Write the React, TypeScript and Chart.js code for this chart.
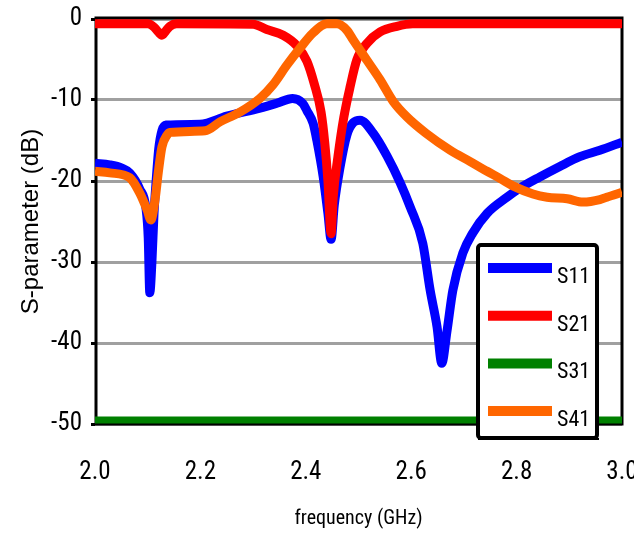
import React, { useEffect, useRef } from "react";
import { Chart, registerables } from "chart.js";

Chart.register(...registerables);

// ---------- data ----------
const s11Freq = [2.0, 2.028, 2.051, 2.066, 2.085, 2.097, 2.101, 2.104, 2.108, 2.112, 2.116, 2.121, 2.127, 2.135, 2.199, 2.25, 2.313, 2.345, 2.375, 2.394, 2.402, 2.414, 2.421, 2.433, 2.442, 2.448, 2.454, 2.465, 2.478, 2.49, 2.503, 2.528, 2.554, 2.579, 2.598, 2.622, 2.636, 2.649, 2.658, 2.668, 2.679, 2.698, 2.717, 2.744, 2.782, 2.806, 2.844, 2.882, 2.92, 2.958, 3.0];
const s11Db = [-17.8, -18.0, -18.4, -19.0, -21.0, -23.5, -27.0, -33.8, -30.0, -24.0, -20.0, -16.0, -13.8, -13.1, -13.0, -12.0, -11.0, -10.4, -9.8, -10.4, -11.3, -12.9, -15.0, -19.5, -24.0, -27.2, -23.0, -18.3, -14.3, -12.8, -12.5, -14.1, -16.9, -20.2, -23.2, -27.7, -33.5, -38.0, -42.5, -38.5, -33.5, -28.9, -26.4, -24.0, -22.0, -20.9, -19.5, -18.2, -17.0, -16.2, -15.2];

const s21Freq = [2.0, 2.1, 2.112, 2.12, 2.127, 2.134, 2.142, 2.155, 2.3, 2.326, 2.357, 2.383, 2.402, 2.416, 2.429, 2.436, 2.442, 2.448, 2.452, 2.461, 2.472, 2.484, 2.497, 2.516, 2.541, 2.573, 2.603, 3.0];
const s21Db = [-0.6, -0.6, -1.0, -1.6, -2.0, -1.5, -0.9, -0.6, -0.65, -1.3, -2.0, -3.3, -5.2, -8.0, -11.5, -15.3, -20.0, -26.5, -22.0, -17.0, -12.2, -8.4, -5.0, -3.0, -1.6, -0.9, -0.6, -0.6];

const s31Freq = [2.0, 3.0];
const s31Db = [-49.5, -49.5];

const s41Freq = [2.0, 2.028, 2.066, 2.085, 2.099, 2.106, 2.114, 2.12, 2.127, 2.137, 2.142, 2.209, 2.237, 2.275, 2.313, 2.338, 2.364, 2.389, 2.414, 2.44, 2.459, 2.478, 2.49, 2.516, 2.541, 2.566, 2.592, 2.628, 2.674, 2.712, 2.744, 2.769, 2.793, 2.831, 2.858, 2.896, 2.926, 2.958, 2.971, 3.0];
const s41Db = [-18.8, -19.0, -19.6, -21.5, -23.6, -24.8, -22.3, -19.0, -15.8, -14.3, -14.0, -13.8, -12.7, -11.5, -9.8, -8.1, -5.7, -3.6, -1.7, -0.6, -0.6, -1.4, -2.6, -5.1, -7.5, -10.2, -12.1, -14.1, -16.2, -17.6, -18.8, -19.7, -20.6, -21.6, -22.0, -22.2, -22.6, -22.3, -22.0, -21.4];

const seriesNames = ["S11", "S21", "S31", "S41"];
const seriesColors = ["#0000ff", "#ff0000", "#008000", "#ff6600"];

const xTickValues = [2.0, 2.2, 2.4, 2.6, 2.8, 3.0];
const xTickLabels = ["2.0", "2.2", "2.4", "2.6", "2.8", "3.0"];
const yTickValues = [0, -10, -20, -30, -40, -50];
const yTickLabels = ["0", "-10", "-20", "-30", "-40", "-50"];

const xTitle = "frequency (GHz)";
const yTitle = "S-parameter (dB)";

// ---------- styles ----------
const NARROW = "'Roboto Condensed', 'Liberation Sans', sans-serif";
const REGULAR = "'Liberation Sans', Arial, sans-serif";

const framePlugin = {
  id: "frame",
  beforeDatasetsDraw(chart: any) {
    const { ctx, chartArea } = chart;
    ctx.save();
    ctx.strokeStyle = "#000";
    ctx.lineWidth = 3;
    ctx.strokeRect(chartArea.left + 1, chartArea.top - 1, chartArea.right - chartArea.left - 1, chartArea.bottom - chartArea.top + 1);
    ctx.restore();
  },
};

const legendPlugin = {
  id: "boxLegend",
  afterDraw(chart: any) {
    const { ctx } = chart;
    const bx = 478, by = 245, bw = 119, bh = 193;
    ctx.save();
    ctx.fillStyle = "#fff";
    ctx.strokeStyle = "#000";
    ctx.lineWidth = 4;
    ctx.beginPath();
    if (ctx.roundRect) ctx.roundRect(bx, by, bw, bh, 3);
    else ctx.rect(bx, by, bw, bh);
    ctx.fill();
    ctx.stroke();
    ctx.fillStyle = "#000";
    ctx.fillRect(bx, by + bh, bw + 2, 2);
    const rowTop = 268, rowGap = 47.7;
    ctx.font = `22px ${NARROW}`;
    ctx.textBaseline = "alphabetic";
    ctx.textAlign = "left";
    chart.data.datasets.forEach((ds: any, i: number) => {
      const y = rowTop + i * rowGap;
      ctx.strokeStyle = ds.borderColor;
      ctx.lineWidth = 10;
      ctx.lineCap = "butt";
      ctx.beginPath();
      ctx.moveTo(488, y);
      ctx.lineTo(552, y);
      ctx.stroke();
      ctx.fillStyle = "#000";
      ctx.fillText(ds.label, 557, y + 15);
    });
    ctx.restore();
  },
};

export default function App() {
  const ref = useRef<HTMLCanvasElement | null>(null);
  useEffect(() => {
    if (!ref.current) return;
    const freqs = [s11Freq, s21Freq, s31Freq, s41Freq];
    const dbs = [s11Db, s21Db, s31Db, s41Db];
    const orders = [3, 2, 1, 0];
    const datasets = seriesNames.map((name, i) => ({
      label: name,
      data: freqs[i].map((x, j) => ({ x, y: dbs[i][j] })),
      borderColor: seriesColors[i],
      backgroundColor: seriesColors[i],
      borderWidth: i === 2 ? 7 : 9,
      pointRadius: 0,
      cubicInterpolationMode: "monotone" as const,
      borderJoinStyle: "round" as const,
      fill: false,
      order: orders[i],
    }));
    const chart = new Chart(ref.current, {
      type: "line",
      data: { datasets },
      plugins: [framePlugin, legendPlugin],
      options: {
        animation: false,
        responsive: false,
        layout: { padding: { left: 0, right: 12, top: 19, bottom: 0 } },
        plugins: { legend: { display: false }, tooltip: { enabled: false } },
        scales: {
          x: {
            type: "linear",
            min: 2,
            max: 3,
            afterBuildTicks: (s: any) => {
              s.ticks = xTickValues.map((v) => ({ value: v }));
            },
            afterFit: (s: any) => {
              s.height = 112;
              s.paddingLeft = 0;
              s.paddingRight = 0;
            },
            ticks: {
              callback: (v: any) => {
                const k = xTickValues.findIndex((t) => Math.abs(t - Number(v)) < 1e-6);
                return k >= 0 ? xTickLabels[k] : "";
              },
              font: { family: NARROW, size: 25 },
              color: "#000",
              padding: 26,
              maxRotation: 0,
              autoSkip: false,
            },
            grid: { display: false },
            border: { display: false },
            title: {
              display: true,
              text: xTitle,
              font: { family: NARROW, size: 20 },
              color: "#000",
              padding: { top: 0, bottom: 5 },
            },
          },
          y: {
            type: "linear",
            min: -50,
            max: 0,
            afterBuildTicks: (s: any) => {
              s.ticks = yTickValues.map((v) => ({ value: v }));
            },
            afterFit: (s: any) => {
              s.width = 95;
              s.paddingTop = 0;
              s.paddingBottom = 0;
            },
            ticks: {
              callback: (v: any) => {
                const k = yTickValues.findIndex((t) => Math.abs(t - Number(v)) < 1e-6);
                return k >= 0 ? yTickLabels[k] : "";
              },
              font: { family: NARROW, size: 25 },
              color: "#000",
              padding: 9,
              autoSkip: false,
            },
            grid: {
              color: "#a0a0a0",
              lineWidth: 3,
              tickColor: "#000",
              tickLength: 4,
              tickWidth: 3,
            },
            border: { display: false },
            title: {
              display: true,
              text: yTitle,
              font: { family: REGULAR, size: 24 },
              color: "#000",
              padding: { top: 17, bottom: 0 },
            },
          },
        },
      },
    });
    return () => chart.destroy();
  }, []);
  return (
    <div style={{ position: "fixed", left: 0, top: 0, width: 634, height: 536, background: "#fff" }}>
      <canvas ref={ref} width={634} height={536} style={{ display: "block", width: 634, height: 536 }} />
    </div>
  );
}
